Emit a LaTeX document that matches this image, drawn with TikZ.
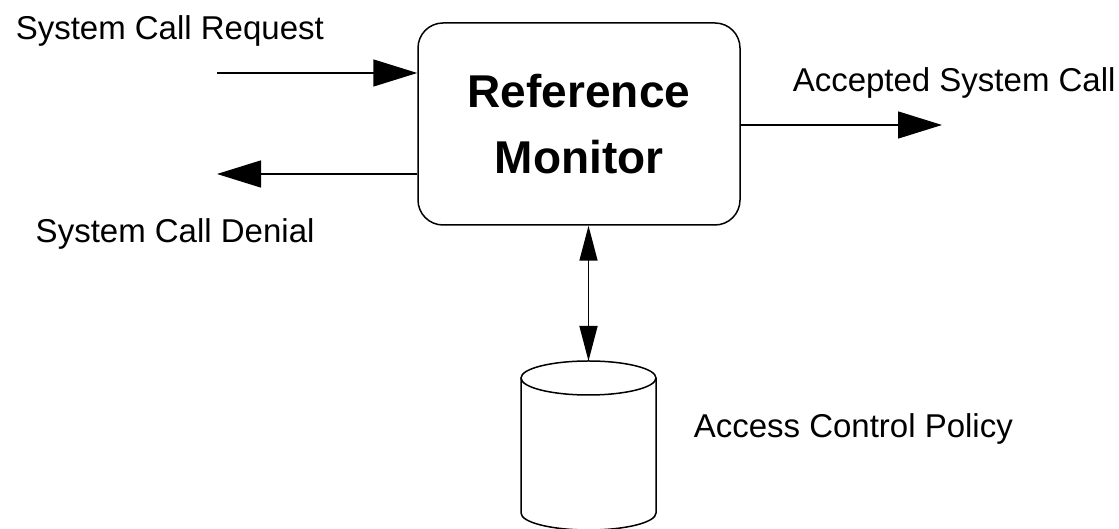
\documentclass[tikz,border=0pt]{standalone}
\usepackage{fontspec}
\setmainfont{Liberation Sans}
\usetikzlibrary{arrows.meta}

\begin{document}
\begin{tikzpicture}[x=0.5pt, y=0.5pt, line width=0.75pt,
    >={Triangle[length=22pt, width=13.5pt]},  % big solid heads
    small/.style={{Triangle[length=17.5pt, width=9pt]}-{Triangle[length=17.5pt, width=9pt]}},
    lbl/.style={inner sep=0pt, anchor=base west, font=\fontsize{16.5}{20}\selectfont},
    monitor/.style={draw, rounded corners=12.5pt, minimum width=161pt, minimum height=101pt,
        inner sep=0pt, align=center, font=\fontsize{23}{33.5}\selectfont\bfseries}]
    \useasboundingbox (0, 0) rectangle (1119, 529);

    % the monitor box
    \node[monitor] (rm) at (579, 405) {Reference\\[-0.5pt]Monitor};

    % labels
    \node[lbl] (req) at (15, 489) {System Call Request};
    \node[lbl] (acc) at (792, 437) {Accepted System Call};
    \node[lbl] (den) at (35, 286) {System Call Denial};
    \node[lbl] (pol) at (693, 91) {Access Control Policy};

    % free ends of the arrows
    \coordinate (reqin) at (217, 456);
    \coordinate (accout) at (942, 404);
    \coordinate (denout) at (217, 355);
    \coordinate (db) at (588.5, 168);

    \draw[->] (reqin) -- (reqin -| rm.west);
    \draw[->] (rm.east |- accout) -- (accout);
    \draw[->] (rm.west |- denout) -- (denout);
    \draw[small] (db |- rm.south) -- (db);

    % the policy store
    \draw (521, 151) -- (521, 16) arc[start angle=180, end angle=360, x radius=67.5, y radius=17]
        -- (656, 151);
    \draw (588.5, 151) ellipse [x radius=67.5, y radius=17];
\end{tikzpicture}
\end{document}
